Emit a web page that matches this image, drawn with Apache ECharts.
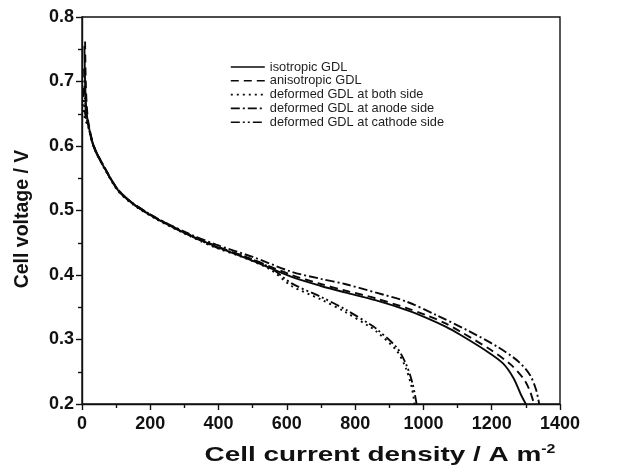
<!DOCTYPE html>
<html>
<head>
<meta charset="utf-8">
<script src="https://cdn.jsdelivr.net/npm/echarts@6/dist/echarts.min.js"></script>
<style>
  html, body { margin: 0; padding: 0; background: #fff; }
  #chart { width: 629px; height: 469px; }
</style>
</head>
<body>
<div id="chart"></div>
<script>
// Polarization curves: cell voltage vs. current density, [A m-2, V]
const isotropic = [
  [7, 0.755], [9, 0.70], [12, 0.662], [18, 0.635], [35, 0.598], [70, 0.562],
  [106, 0.531], [150, 0.510], [216, 0.488], [305, 0.464], [393, 0.444],
  [500, 0.422], [614, 0.397], [700, 0.383], [770, 0.373], [859, 0.361],
  [949, 0.346], [1007, 0.334], [1065, 0.320], [1109, 0.307], [1179, 0.284],
  [1233, 0.263], [1264, 0.240], [1286, 0.214], [1300, 0.200]
];
const anisotropic = [
  [9, 0.762], [11, 0.70], [14, 0.662], [19, 0.636], [35, 0.600], [70, 0.563],
  [106, 0.532], [150, 0.511], [216, 0.489], [305, 0.465], [393, 0.445],
  [500, 0.424], [614, 0.400], [700, 0.386], [770, 0.376], [859, 0.364],
  [949, 0.349], [1007, 0.338], [1065, 0.325], [1109, 0.312], [1197, 0.284],
  [1256, 0.261], [1295, 0.238], [1312, 0.220], [1324, 0.200]
];
const deformedBoth = [
  [2, 0.665], [5, 0.652], [10, 0.640], [18, 0.630], [35, 0.597], [70, 0.561],
  [106, 0.530], [150, 0.509], [216, 0.487], [305, 0.463], [393, 0.442],
  [464, 0.429], [550, 0.409], [614, 0.383], [700, 0.362], [770, 0.343],
  [842, 0.320], [859, 0.314], [921, 0.283], [949, 0.255], [966, 0.225],
  [974, 0.200]
];
const deformedAnode = [
  [6, 0.720], [8, 0.680], [12, 0.650], [18, 0.633], [35, 0.599], [70, 0.563],
  [106, 0.532], [150, 0.511], [216, 0.489], [305, 0.466], [393, 0.447],
  [500, 0.428], [614, 0.405], [700, 0.394], [770, 0.386], [859, 0.373],
  [949, 0.359], [1037, 0.338], [1126, 0.315], [1216, 0.289], [1278, 0.266],
  [1312, 0.245], [1330, 0.222], [1339, 0.200]
];
const deformedCathode = [
  [4, 0.690], [7, 0.660], [11, 0.645], [18, 0.632], [35, 0.598], [70, 0.562],
  [106, 0.531], [150, 0.510], [216, 0.488], [305, 0.464], [393, 0.443],
  [464, 0.431], [550, 0.412], [614, 0.387], [700, 0.366], [770, 0.347],
  [842, 0.324], [859, 0.318], [921, 0.288], [949, 0.262], [968, 0.232],
  [980, 0.200]
];

const seriesNames = [
  'isotropic GDL',
  'anisotropic GDL',
  'deformed GDL at both side',
  'deformed GDL at anode side',
  'deformed GDL at cathode side'
];
const seriesData = [isotropic, anisotropic, deformedBoth, deformedAnode, deformedCathode];
const dashPatterns = ['solid', [8, 5], [2, 4], [9, 3, 2, 3], [9, 3, 2, 3, 2, 3]];

const xTicks = { min: 0, max: 1400, step: 200 };
const yTicks = { min: 0.2, max: 0.8, step: 0.1 };

const sansFont = 'Liberation Sans, Arial, sans-serif';
const ink = '#111';

const chart = echarts.init(document.getElementById('chart'), null, { renderer: 'canvas' });

const axisCommon = {
  type: 'value',
  axisLine: { show: true, onZero: false, lineStyle: { color: ink, width: 1.4 } },
  axisTick: { show: true, inside: false, length: 6, lineStyle: { color: ink, width: 1.4 } },
  minorTick: { show: true, splitNumber: 2, length: 4, lineStyle: { color: ink, width: 1.4 } },
  splitLine: { show: false }
};

chart.setOption({
  animation: false,
  backgroundColor: '#ffffff',
  grid: {
    left: 82, right: 69, top: 17, bottom: 65,
    show: true, borderColor: ink, borderWidth: 1.4, backgroundColor: 'transparent'
  },
  legend: {
    orient: 'vertical',
    left: 230, top: 60.5,
    padding: 0,
    itemWidth: 34, itemHeight: 10, itemGap: 0.8,
    data: seriesNames,
    itemStyle: { color: 'transparent', borderColor: 'transparent', borderWidth: 0 },
    lineStyle: { width: 1.6 },
    textStyle: { fontFamily: sansFont, fontSize: 12.8, color: '#1e1e1e' }
  },
  xAxis: Object.assign({}, axisCommon, {
    min: xTicks.min, max: xTicks.max, interval: xTicks.step,
    axisLabel: {
      margin: 11, fontFamily: sansFont, fontWeight: 'bold', fontSize: 18, color: ink,
      formatter: v => String(v)
    }
  }),
  yAxis: Object.assign({}, axisCommon, {
    min: yTicks.min, max: yTicks.max, interval: yTicks.step,
    axisLabel: {
      margin: 8, fontFamily: sansFont, fontWeight: 'bold', fontSize: 18, color: ink,
      formatter: v => v.toFixed(1)
    }
  }),
  graphic: [
    {
      // horizontal axis title
      type: 'text',
      x: 380, y: 455,
      scaleX: 1.33,
      style: {
        text: '{a|Cell current density / A m}{b|-2}',
        textAlign: 'center',
        textVerticalAlign: 'middle',
        fill: ink,
        rich: {
          a: { fontFamily: sansFont, fontWeight: 'bold', fontSize: 21, lineHeight: 22, fill: ink },
          b: { fontFamily: sansFont, fontWeight: 'bold', fontSize: 12, lineHeight: 12, verticalAlign: 'top', fill: ink }
        }
      }
    },
    {
      // vertical axis title
      type: 'text',
      x: 22.5, y: 219,
      rotation: Math.PI / 2,
      style: {
        text: 'Cell voltage / V',
        textAlign: 'center',
        textVerticalAlign: 'middle',
        fill: ink,
        font: 'bold 19.5px Liberation Sans, Arial, sans-serif'
      }
    }
  ],
  series: seriesNames.map((name, i) => ({
    name,
    type: 'line',
    data: seriesData[i],
    showSymbol: false,
    symbol: 'none',
    smooth: 0.3,
    clip: true,
    lineStyle: { color: '#0a0a0a', width: 1.9, type: dashPatterns[i] }
  }))
});
</script>
</body>
</html>
